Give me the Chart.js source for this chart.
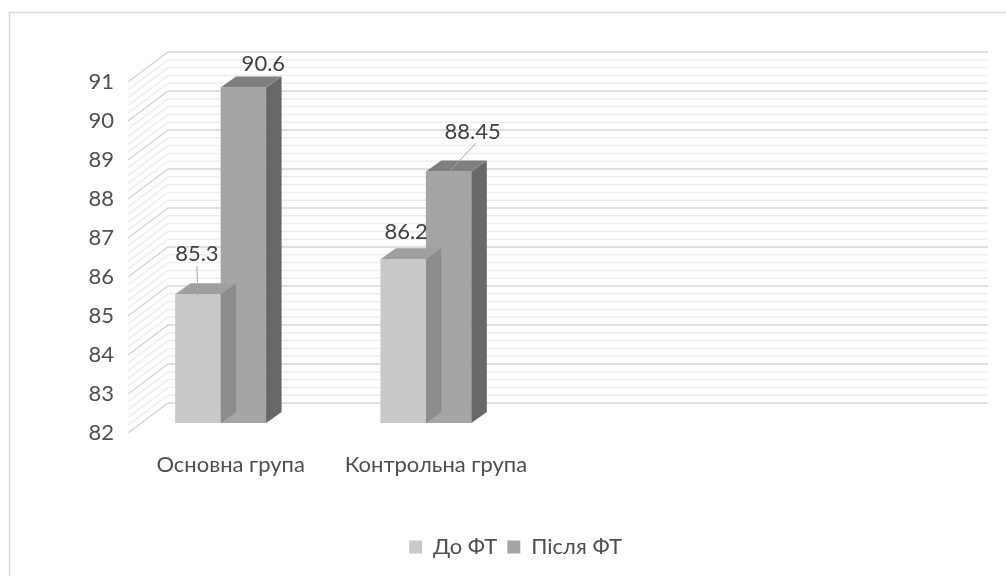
<!DOCTYPE html>
<html>
<head>
<meta charset="utf-8">
<script src="https://cdn.jsdelivr.net/npm/chart.js@4.4.1/dist/chart.umd.min.js"></script>
<style>
  html, body { margin: 0; padding: 0; background: #fff; }
  #wrap { position: relative; width: 1006px; height: 576px; }
</style>
</head>
<body>
<div id="wrap"><canvas id="chart" width="1006" height="576"></canvas></div>
<script>
// data
var categories = ['Основна група', 'Контрольна група', '', ''];
var seriesNames = ['До ФТ', 'Після ФТ'];
var beforeValues = [85.3, 86.2, null, null];
var afterValues = [90.6, 88.45, null, null];
var yMin = 82, yMax = 91, yStep = 1, yMinorStep = 0.2;

// look
var FONT = 'Lato';
var TEXT = '#4f4f4f';
var frontColors = ['#c9c9c9', '#a5a5a5'];
var topColors = ['#9f9f9f', '#7f7f7f'];
var sideColors = ['#8c8c8c', '#686868'];
var DEPTH_X = 15.5, DEPTH_Y = -11;
var LEGEND_SHIFT = 46;

// where each value label sits relative to the bar top (per dataset, per category)
var labelPlace = [
    [{ dx: -1, dy: -40, leader: true }, { dx: 3, dy: -27 }],
    [{ dx: 20, dy: -24 }, { dx: 24, dy: -40, leader: true }]
];

// 3d wall behind the bars (Excel style)
var wallPlugin = {
    id: 'wall',
    afterLayout: function (chart) {
        // legend is centred on the whole picture, not on the plot
        chart.legend.left += LEGEND_SHIFT;
        chart.legend.right += LEGEND_SHIFT;
    },
    beforeDraw: function (chart) {
        var ctx = chart.ctx;
        ctx.save();
        ctx.fillStyle = '#fff';
        ctx.fillRect(0, 0, chart.width, chart.height);
        ctx.strokeStyle = '#d9d9d9';
        ctx.lineWidth = 1.5;
        ctx.strokeRect(9.5, 12.5, 1010, 580);
        ctx.restore();
    },
    beforeDatasetsDraw: function (chart) {
        var ctx = chart.ctx;
        var area = chart.chartArea;
        var ys = chart.scales.y;
        var frontX = area.left + 10, backX0 = area.left + 50, backX1 = area.right + 49;
        ctx.save();
        ctx.lineWidth = 1.5;
        function line(v, color) {
            var y = ys.getPixelForValue(v);
            ctx.strokeStyle = color;
            ctx.beginPath();
            ctx.moveTo(frontX, y + 10);
            ctx.lineTo(backX0, y - 20);
            ctx.lineTo(backX1, y - 20);
            ctx.stroke();
        }
        var n = Math.round((yMax - yMin) / yMinorStep);
        for (var i = 0; i <= n; i++) {
            var v = yMin + i * yMinorStep;
            if (Math.abs(v - Math.round(v)) > 1e-6) line(v, '#eeeeee');
        }
        for (var m = yMin; m <= yMax; m += yStep) line(m, '#d6d6d6');
        ctx.restore();
    },
    afterDatasetDraw: function (chart, args) {
        var ctx = chart.ctx;
        var di = args.index;
        var meta = chart.getDatasetMeta(di);
        var values = chart.data.datasets[di].data;
        var floor = chart.scales.y.getPixelForValue(yMin);
        ctx.save();
        meta.data.forEach(function (bar, i) {
            if (values[i] == null) return;
            var p = bar.getProps(['x', 'y', 'base', 'width'], true);
            var base = Math.min(p.base, floor);
            var l = p.x - p.width / 2, r = p.x + p.width / 2;
            // side face
            ctx.fillStyle = sideColors[di];
            ctx.beginPath();
            ctx.moveTo(r, p.y);
            ctx.lineTo(r + DEPTH_X, p.y + DEPTH_Y);
            ctx.lineTo(r + DEPTH_X, base + DEPTH_Y);
            ctx.lineTo(r, base);
            ctx.closePath();
            ctx.fill();
            // top face
            ctx.fillStyle = topColors[di];
            ctx.beginPath();
            ctx.moveTo(l, p.y);
            ctx.lineTo(l + DEPTH_X, p.y + DEPTH_Y);
            ctx.lineTo(r + DEPTH_X, p.y + DEPTH_Y);
            ctx.lineTo(r, p.y);
            ctx.closePath();
            ctx.fill();
            // value label
            var place = labelPlace[di][i];
            var tx = p.x + place.dx, ty = p.y + place.dy;
            if (place.leader) {
                ctx.strokeStyle = '#a6a6a6';
                ctx.lineWidth = 1;
                ctx.beginPath();
                ctx.moveTo(tx + (place.dx > 5 ? 3 : 0), ty + 12);
                ctx.lineTo(p.x, p.y + 1);
                ctx.stroke();
            }
            ctx.fillStyle = '#404040';
            ctx.font = '22px ' + FONT;
            ctx.textAlign = 'center';
            ctx.textBaseline = 'middle';
            ctx.fillText(String(values[i]), tx, ty);
        });
        ctx.restore();
    }
};

var ctxChart = document.getElementById('chart').getContext('2d');
var chart = new Chart(ctxChart, {
    type: 'bar',
    data: {
        labels: categories,
        datasets: [{
            label: seriesNames[0],
            data: beforeValues,
            backgroundColor: frontColors[0],
            borderWidth: 0
        }, {
            label: seriesNames[1],
            data: afterValues,
            backgroundColor: frontColors[1],
            borderWidth: 0
        }]
    },
    options: {
        responsive: false,
        devicePixelRatio: 1,
        animation: false,
        events: [],
        layout: { padding: { top: 72, left: 0, right: 67, bottom: 8 } },
        datasets: {
            bar: { categoryPercentage: 0.443, barPercentage: 1 }
        },
        scales: {
            x: {
                grid: { display: false, drawTicks: false },
                border: { display: false },
                ticks: {
                    color: TEXT,
                    font: { family: FONT, size: 22 },
                    padding: 29,
                    labelOffset: 10,
                    maxRotation: 0,
                    autoSkip: false
                },
                afterFit: function (s) { s.height = 103; }
            },
            y: {
                min: yMin,
                max: yMax,
                grid: { display: false, drawTicks: false },
                border: { display: false },
                ticks: {
                    stepSize: yStep,
                    color: TEXT,
                    font: { family: FONT, size: 22 },
                    padding: 4,
                    labelOffset: 10
                },
                afterFit: function (s) { s.width = 118; }
            }
        },
        plugins: {
            legend: {
                position: 'bottom',
                labels: {
                    color: TEXT,
                    font: { family: FONT, size: 22 },
                    boxWidth: 13,
                    boxHeight: 13,
                    padding: 10
                }
            },
            tooltip: { enabled: false }
        }
    },
    plugins: [wallPlugin]
});
</script>
</body>
</html>
